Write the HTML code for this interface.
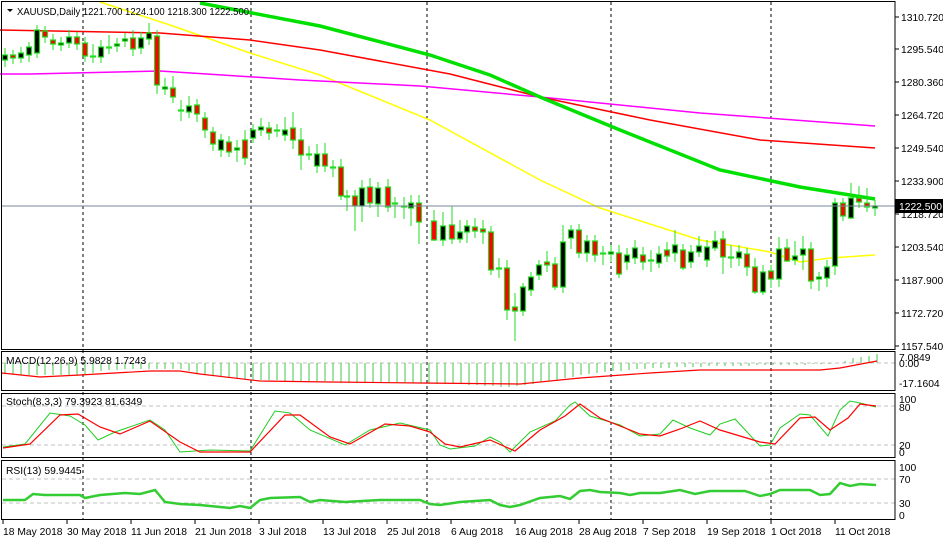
<!DOCTYPE html>
<html><head><meta charset="utf-8"><style>
html,body{margin:0;padding:0;background:#fff;width:943px;height:542px;overflow:hidden}
svg{display:block;font-family:"Liberation Sans",sans-serif;font-size:10.3px}
</style></head><body>
<svg width="943" height="542" xmlns="http://www.w3.org/2000/svg">
<g stroke="#000" stroke-dasharray="3,3">
<line x1="83" y1="2" x2="83" y2="520"/><line x1="251" y1="2" x2="251" y2="520"/><line x1="427" y1="2" x2="427" y2="520"/><line x1="611" y1="2" x2="611" y2="520"/><line x1="771" y1="2" x2="771" y2="520"/>
</g>
<polyline fill="none" stroke="#ffff00" stroke-width="1.5" points="100,2 170,25 250,53 320,75 430,120 540,180 600,208 700,240 770,252 800,262 830,258 875,255"/>
<polyline fill="none" stroke="#ff00ff" stroke-width="1.5" points="0,74 30,74 160,71 300,80 420,86 540,97 700,113 875,126"/>
<polyline fill="none" stroke="#ff0000" stroke-width="1.5" points="0,30 160,33 250,40 320,50 450,74 540,97 650,120 760,140 875,148"/>
<polyline fill="none" stroke="#00e000" stroke-width="3.5" points="200,3 320,26 430,55 490,75 540,97 620,130 720,170 800,187 875,199"/>
<g stroke="#22dd22" stroke-width="1">
<path d="M5,48V67M13,50V64M21,47V63M29,42V62M37,25V58M45,26V43M53,34V50M61,37V51M69,30V48M77,32V50M85,37V62M93,44V63M101,40V63M109,35V54M117,38V52M125,33V47M133,30V56M141,32V54M149,23V45M157,30V94M165,78V95M173,76V103M181,100V121M189,96V118M197,99V122M205,112V138M213,127V151M221,134V157M229,136V157M237,140V162M245,130V165M253,124V143M261,118V136M269,122V140M277,124V137M285,117V141M293,112V149M301,128V170M309,146V160M317,144V173M325,143V172M333,160V177M341,159V200M347,190V211M355,190V231M362,180V222M370,178V208M378,182V217M388,179V212M395,197V218M404,197V219M411,195V226M419,195V244M434,210V241M443,212V246M452,206V244M460,220V243M467,220V243M475,218V238M483,220V244M491,226V275M499,258V278M507,260V320M515,293V341M523,283V316M531,272V296M539,260V280M547,251V272M555,257V290M563,225V293M571,225V249M579,224V258M587,235V262M595,235V262M603,246V265M611,245V262M619,245V278M627,248V270M635,240V264M643,247V270M651,250V272M659,246V268M667,242V262M675,230V262M683,244V270M691,245V268M699,236V257M707,240V267M715,231V251M723,231V274M731,245V268M739,245V266M747,248V276M755,258V294M763,265V295M771,265V288M779,237V287M787,239V262M795,241V265M803,236V270M811,242V289M819,272V291M827,260V287M835,198V275M843,198V221M851,183V219M859,186V208M867,188V212M875,200V216"/>
</g>
<g stroke="#22dd22" stroke-width="1.2">
<rect x="2.5" y="55" width="5" height="5" fill="#000"/><rect x="10.5" y="55" width="5" height="3" fill="#f00"/><rect x="18.5" y="53" width="5" height="5" fill="#000"/><rect x="26.5" y="47" width="5" height="8" fill="#000"/><rect x="34.5" y="30" width="5" height="23" fill="#000"/><rect x="42.5" y="31" width="5" height="6" fill="#f00"/><rect x="50.5" y="40" width="5" height="4" fill="#f00"/><rect x="58.5" y="43" width="5" height="2" fill="#000"/><rect x="66.5" y="37" width="5" height="6" fill="#000"/><rect x="74.5" y="37" width="5" height="7" fill="#f00"/><rect x="82.5" y="43" width="5" height="13" fill="#f00"/><rect x="90.5" y="56" width="5" height="1" fill="#000"/><rect x="98.5" y="47" width="5" height="10" fill="#000"/><rect x="106.5" y="47" width="5" height="1" fill="#000"/><rect x="114.5" y="44" width="5" height="2" fill="#000"/><rect x="122.5" y="39" width="5" height="2" fill="#000"/><rect x="130.5" y="38" width="5" height="11" fill="#f00"/><rect x="138.5" y="38" width="5" height="10" fill="#000"/><rect x="146.5" y="33" width="5" height="6" fill="#000"/><rect x="154.5" y="36" width="5" height="49" fill="#f00"/><rect x="162.5" y="87" width="5" height="2" fill="#000"/><rect x="170.5" y="88" width="5" height="9" fill="#f00"/><rect x="178.5" y="110" width="5" height="1" fill="#000"/><rect x="186.5" y="106" width="5" height="6" fill="#000"/><rect x="194.5" y="105" width="5" height="9" fill="#f00"/><rect x="202.5" y="118" width="5" height="12" fill="#f00"/><rect x="210.5" y="132" width="5" height="12" fill="#f00"/><rect x="218.5" y="140" width="5" height="10" fill="#000"/><rect x="226.5" y="142" width="5" height="10" fill="#f00"/><rect x="234.5" y="148" width="5" height="2" fill="#000"/><rect x="242.5" y="140" width="5" height="18" fill="#f00"/><rect x="250.5" y="130" width="5" height="8" fill="#000"/><rect x="258.5" y="127" width="5" height="3" fill="#000"/><rect x="266.5" y="128" width="5" height="5" fill="#f00"/><rect x="274.5" y="130" width="5" height="1" fill="#000"/><rect x="282.5" y="130" width="5" height="5" fill="#000"/><rect x="290.5" y="128" width="5" height="12" fill="#f00"/><rect x="298.5" y="140" width="5" height="15" fill="#f00"/><rect x="306.5" y="154" width="5" height="1" fill="#000"/><rect x="314.5" y="154" width="5" height="12" fill="#000"/><rect x="322.5" y="154" width="5" height="12" fill="#f00"/><rect x="330.5" y="167" width="5" height="1" fill="#000"/><rect x="338.5" y="167" width="5" height="29" fill="#f00"/><rect x="344.5" y="196" width="5" height="1" fill="#000"/><rect x="352.5" y="196" width="5" height="10" fill="#f00"/><rect x="359.5" y="188" width="5" height="18" fill="#000"/><rect x="367.5" y="187" width="5" height="16" fill="#f00"/><rect x="375.5" y="188" width="5" height="16" fill="#000"/><rect x="385.5" y="187" width="5" height="20" fill="#f00"/><rect x="392.5" y="203" width="5" height="1" fill="#000"/><rect x="401.5" y="206" width="5" height="1" fill="#000"/><rect x="408.5" y="203" width="5" height="5" fill="#000"/><rect x="416.5" y="203" width="5" height="19" fill="#f00"/><rect x="431.5" y="221" width="5" height="19" fill="#f00"/><rect x="440.5" y="226" width="5" height="14" fill="#000"/><rect x="449.5" y="225" width="5" height="14" fill="#f00"/><rect x="457.5" y="232" width="5" height="7" fill="#000"/><rect x="464.5" y="226" width="5" height="6" fill="#000"/><rect x="472.5" y="227" width="5" height="4" fill="#f00"/><rect x="480.5" y="229" width="5" height="3" fill="#f00"/><rect x="488.5" y="232" width="5" height="38" fill="#f00"/><rect x="496.5" y="268" width="5" height="1" fill="#000"/><rect x="504.5" y="268" width="5" height="42" fill="#f00"/><rect x="512.5" y="307" width="5" height="4" fill="#f00"/><rect x="520.5" y="287" width="5" height="24" fill="#000"/><rect x="528.5" y="277" width="5" height="13" fill="#000"/><rect x="536.5" y="265" width="5" height="10" fill="#000"/><rect x="544.5" y="262" width="5" height="3" fill="#f00"/><rect x="552.5" y="264" width="5" height="23" fill="#f00"/><rect x="560.5" y="242" width="5" height="45" fill="#000"/><rect x="568.5" y="230" width="5" height="8" fill="#000"/><rect x="576.5" y="230" width="5" height="23" fill="#f00"/><rect x="584.5" y="241" width="5" height="12" fill="#000"/><rect x="592.5" y="241" width="5" height="14" fill="#f00"/><rect x="600.5" y="253" width="5" height="1" fill="#000"/><rect x="608.5" y="252" width="5" height="2" fill="#000"/><rect x="616.5" y="253" width="5" height="21" fill="#f00"/><rect x="624.5" y="255" width="5" height="7" fill="#000"/><rect x="632.5" y="248" width="5" height="10" fill="#000"/><rect x="640.5" y="255" width="5" height="7" fill="#f00"/><rect x="648.5" y="260" width="5" height="1" fill="#000"/><rect x="656.5" y="254" width="5" height="9" fill="#000"/><rect x="664.5" y="250" width="5" height="6" fill="#f00"/><rect x="672.5" y="245" width="5" height="8" fill="#000"/><rect x="680.5" y="250" width="5" height="18" fill="#f00"/><rect x="688.5" y="252" width="5" height="10" fill="#000"/><rect x="696.5" y="246" width="5" height="6" fill="#000"/><rect x="704.5" y="247" width="5" height="13" fill="#000"/><rect x="712.5" y="241" width="5" height="7" fill="#000"/><rect x="720.5" y="239" width="5" height="18" fill="#f00"/><rect x="728.5" y="257" width="5" height="1" fill="#000"/><rect x="736.5" y="252" width="5" height="6" fill="#000"/><rect x="744.5" y="254" width="5" height="13" fill="#f00"/><rect x="752.5" y="267" width="5" height="25" fill="#f00"/><rect x="760.5" y="272" width="5" height="20" fill="#000"/><rect x="768.5" y="271" width="5" height="8" fill="#f00"/><rect x="776.5" y="249" width="5" height="30" fill="#000"/><rect x="784.5" y="248" width="5" height="13" fill="#f00"/><rect x="792.5" y="256" width="5" height="4" fill="#000"/><rect x="800.5" y="249" width="5" height="6" fill="#000"/><rect x="808.5" y="249" width="5" height="32" fill="#f00"/><rect x="816.5" y="277" width="5" height="2" fill="#000"/><rect x="824.5" y="267" width="5" height="11" fill="#000"/><rect x="832.5" y="203" width="5" height="63" fill="#000"/><rect x="840.5" y="203" width="5" height="13" fill="#f00"/><rect x="848.5" y="198" width="5" height="20" fill="#000"/><rect x="856.5" y="198" width="5" height="4" fill="#f00"/><rect x="864.5" y="203" width="5" height="4" fill="#f00"/><rect x="872.5" y="206" width="5" height="2" fill="#000"/>
</g>
<line x1="2" y1="206" x2="895" y2="206" stroke="#778899"/>
<g stroke="#000">
<line x1="895" y1="17" x2="899" y2="17"/><line x1="895" y1="49" x2="899" y2="49"/><line x1="895" y1="82" x2="899" y2="82"/><line x1="895" y1="115" x2="899" y2="115"/><line x1="895" y1="148" x2="899" y2="148"/><line x1="895" y1="181" x2="899" y2="181"/><line x1="895" y1="214" x2="899" y2="214"/><line x1="895" y1="247" x2="899" y2="247"/><line x1="895" y1="280" x2="899" y2="280"/><line x1="895" y1="313" x2="899" y2="313"/><line x1="895" y1="346" x2="899" y2="346"/>
</g>
<g>
<text x="901" y="21">1310.720</text><text x="901" y="53">1295.540</text><text x="901" y="86">1280.360</text><text x="901" y="119">1264.720</text><text x="901" y="152">1249.540</text><text x="901" y="185">1233.900</text><text x="901" y="218">1218.720</text><text x="901" y="251">1203.540</text><text x="901" y="284">1187.900</text><text x="901" y="317">1172.720</text><text x="901" y="350">1157.540</text>
</g>
<rect x="895" y="199" width="48" height="14" fill="#000"/><text x="899" y="210" fill="#fff">1222.500</text>
<line x1="2" y1="363" x2="895" y2="363" stroke="#c0c0c0" stroke-dasharray="4,3"/>
<path stroke="#44c444" fill="none" d="M5,363V374M13,363V374M21,363V375M29,363V375M37,363V375M45,363V375M53,363V375M61,363V375M69,363V375M77,363V375M85,363V374M93,363V373M101,363V371M109,363V370M117,363V370M125,363V369M133,363V369M141,363V369M149,363V369M157,363V369M165,363V369M173,363V369M181,363V369M189,363V371M197,363V373M205,363V375M213,363V376M221,363V377M229,363V378M237,363V379M245,363V379M253,363V380M261,363V380M269,363V380M277,363V380M285,363V381M293,363V381M301,363V381M309,363V381M317,363V381M325,363V381M333,363V381M341,363V382M349,363V382M357,363V382M365,363V382M373,363V382M381,363V382M389,363V382M397,363V382M405,363V382M413,363V383M421,363V383M429,363V383M437,363V384M445,363V384M453,363V384M461,363V384M469,363V385M477,363V385M485,363V386M493,363V386M501,363V387M509,363V387M517,363V386M525,363V385M533,363V384M541,363V382M549,363V381M557,363V380M565,363V378M573,363V377M581,363V375M589,363V374M597,363V373M605,363V372M613,363V371M621,363V371M629,363V370M637,363V369M645,363V369M653,363V368M661,363V368M669,363V368M677,363V367M685,363V367M693,363V367M701,363V367M709,363V366M717,363V366M725,363V366M733,363V366M741,363V366M749,363V366M757,363V365M765,363V365M773,363V365M781,363V365M789,363V365M797,363V365M805,363V365M813,363V364M821,363V364M829,363V364M837,363V363M845,363V361M853,363V358M861,363V357M869,363V356M877,363V354"/>
<polyline fill="none" stroke="#ff0000" stroke-width="1.2" points="2,373 40,377 80,375 150,371 180,371 200,374 260,381 330,382 420,383 520,384 580,378 650,373 700,370 820,370 840,368 877,361"/>
<g><text x="899" y="361">7.0849</text><text x="899" y="367">0.00</text><text x="899" y="387">-17.1604</text></g>
<line x1="2" y1="406" x2="895" y2="406" stroke="#c0c0c0" stroke-dasharray="4,3"/><line x1="2" y1="445" x2="895" y2="445" stroke="#c0c0c0" stroke-dasharray="4,3"/>
<polyline fill="none" stroke="#22cc22" stroke-width="1" points="3,447 25,444 50,413 70,416 85,425 98,440 115,432 150,420 165,430 180,452 210,450 250,451 275,411 290,413 310,430 345,445 370,430 400,423 430,430 440,445 450,449 475,446 490,437 500,442 510,452 530,432 555,421 570,405 575,402 590,416 620,425 640,436 660,434 673,420 690,428 710,435 720,424 735,419 760,446 770,445 780,428 800,414 810,415 828,436 840,410 850,401 860,403 876,407"/>
<polyline fill="none" stroke="#ff0000" stroke-width="1.2" points="3,448 30,444 60,415 78,414 100,427 120,434 150,421 180,442 200,452 250,452 285,415 300,415 330,437 350,444 385,424 410,426 430,432 445,444 460,447 490,440 515,451 540,430 565,416 580,404 600,418 640,434 660,436 680,429 700,421 720,430 760,442 775,444 800,418 815,417 830,430 848,418 860,404 876,406"/>
<g><text x="899" y="403">100</text><text x="899" y="411">80</text><text x="899" y="449">20</text><text x="899" y="456">0</text></g>
<line x1="2" y1="479" x2="895" y2="479" stroke="#c0c0c0" stroke-dasharray="4,3"/><line x1="2" y1="503" x2="895" y2="503" stroke="#c0c0c0" stroke-dasharray="4,3"/>
<polyline fill="none" stroke="#33cc33" stroke-width="2.5" points="3,500 25,500 33,494 45,495 80,495 85,498 100,495 125,493 140,494 155,490 165,502 180,504 200,505 230,508 240,506 250,508 260,500 270,498 300,497 310,502 320,500 345,502 380,500 420,500 430,504 440,505 460,502 490,500 500,505 510,507 520,505 540,498 560,496 570,499 580,491 590,490 600,492 620,493 630,495 640,493 660,493 680,490 695,494 710,491 745,491 760,496 770,494 780,490 810,490 820,495 830,494 840,483 850,486 860,484 876,485"/>
<g><text x="899" y="471">100</text><text x="899" y="483">70</text><text x="899" y="507">30</text><text x="899" y="519">0</text></g>
<g fill="none" stroke="#000">
<rect x="1.5" y="1.5" width="893.5" height="348"/>
<rect x="1.5" y="351.5" width="893.5" height="39"/>
<rect x="1.5" y="393.5" width="893.5" height="64"/>
<rect x="1.5" y="460.5" width="893.5" height="59"/>
</g>
<path d="M7,9 L13,9 L10,12Z" fill="#000"/><text x="17" y="15" textLength="232" lengthAdjust="spacingAndGlyphs">XAUUSD,Daily  1221.700 1224.100 1218.300 1222.500</text>
<text x="6" y="364">MACD(12,26,9) 5.9828 1.7243</text>
<text x="6" y="405">Stoch(8,3,3) 79.3923 81.6349</text>
<text x="6" y="474">RSI(13) 59.9445</text>
<g stroke="#000"><path d="M3,520V524M67,520V524M131,520V524M195,520V524M259,520V524M323,520V524M387,520V524M451,520V524M515,520V524M579,520V524M643,520V524M707,520V524M771,520V524M835,520V524"/></g>
<g>
<text x="3" y="535">18 May 2018</text><text x="67" y="535">30 May 2018</text><text x="131" y="535">11 Jun 2018</text><text x="195" y="535">21 Jun 2018</text><text x="259" y="535">3 Jul 2018</text><text x="323" y="535">13 Jul 2018</text><text x="387" y="535">25 Jul 2018</text><text x="451" y="535">6 Aug 2018</text><text x="515" y="535">16 Aug 2018</text><text x="579" y="535">28 Aug 2018</text><text x="643" y="535">7 Sep 2018</text><text x="707" y="535">19 Sep 2018</text><text x="771" y="535">1 Oct 2018</text><text x="835" y="535">11 Oct 2018</text>
</g>
</svg>
</body></html>
